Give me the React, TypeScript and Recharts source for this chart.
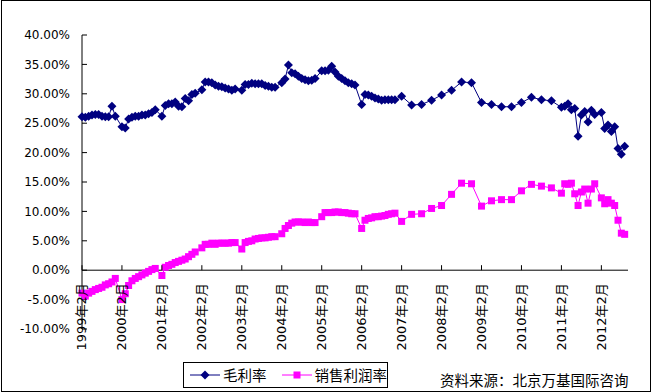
import React from 'react';
import { LineChart, Line, XAxis, YAxis, ReferenceLine } from 'recharts';

// months: Feb-Dec monthly to 2006, quarterly 2007-2010, monthly again 2011-2012
const DATES = [
  '1999-02', '1999-03', '1999-04', '1999-05', '1999-06', '1999-07', '1999-08', '1999-09', '1999-10', '1999-11', '1999-12',
  '2000-02', '2000-03', '2000-04', '2000-05', '2000-06', '2000-07', '2000-08', '2000-09', '2000-10', '2000-11', '2000-12',
  '2001-02', '2001-03', '2001-04', '2001-05', '2001-06', '2001-07', '2001-08', '2001-09', '2001-10', '2001-11', '2001-12',
  '2002-02', '2002-03', '2002-04', '2002-05', '2002-06', '2002-07', '2002-08', '2002-09', '2002-10', '2002-11', '2002-12',
  '2003-02', '2003-03', '2003-04', '2003-05', '2003-06', '2003-07', '2003-08', '2003-09', '2003-10', '2003-11', '2003-12',
  '2004-02', '2004-03', '2004-04', '2004-05', '2004-06', '2004-07', '2004-08', '2004-09', '2004-10', '2004-11', '2004-12',
  '2005-02', '2005-03', '2005-04', '2005-05', '2005-06', '2005-07', '2005-08', '2005-09', '2005-10', '2005-11', '2005-12',
  '2006-02', '2006-03', '2006-04', '2006-05', '2006-06', '2006-07', '2006-08', '2006-09', '2006-10', '2006-11', '2006-12',
  '2007-02', '2007-05', '2007-08', '2007-11',
  '2008-02', '2008-05', '2008-08', '2008-11',
  '2009-02', '2009-05', '2009-08', '2009-11',
  '2010-02', '2010-05', '2010-08', '2010-11',
  '2011-02', '2011-03', '2011-04', '2011-05', '2011-06', '2011-07', '2011-08', '2011-09', '2011-10', '2011-11', '2011-12',
  '2012-02', '2012-03', '2012-04', '2012-05', '2012-06', '2012-07', '2012-08', '2012-09',
];

// 毛利率 (%)
const GROSS = [
  26.1, 26.0, 26.2, 26.4, 26.5, 26.5, 26.2, 26.1, 26.1, 27.9, 26.2,
  24.4, 24.2, 25.7, 26.0, 26.2, 26.2, 26.4, 26.4, 26.6, 26.8, 27.3,
  26.2, 28.0, 28.3, 28.3, 28.6, 27.9, 27.8, 29.2, 28.8, 29.9, 30.1,
  30.7, 32.0, 32.0, 31.9, 31.5, 31.3, 31.2, 31.0, 30.8, 30.6, 30.8,
  30.6, 31.6, 31.6, 31.8, 31.7, 31.7, 31.7, 31.4, 31.3, 31.1, 31.1,
  31.9, 32.5, 34.9, 33.6, 33.4, 33.0, 32.6, 32.4, 32.2, 32.3, 32.6,
  33.9, 33.9, 34.0, 34.7, 33.7, 33.0, 32.6, 32.2, 31.9, 31.7, 31.5,
  28.2, 29.9, 29.8, 29.6, 29.3, 29.1, 28.9, 29.0, 29.0, 29.0, 29.0,
  29.6, 28.1, 28.2, 28.9,
  29.8, 30.6, 32.0, 31.9,
  28.5, 28.2, 27.8, 27.8,
  28.5, 29.4, 29.0, 28.8,
  27.7, 27.9, 28.3, 27.3, 27.5, 22.8, 26.4, 27.0, 25.2, 27.2, 26.5,
  26.8, 24.1, 24.7, 23.6, 24.4, 20.7, 19.7, 21.1,
];

// 销售利润率 (%)
const NET = [
  -3.9, -4.4, -3.9, -3.6, -3.3, -3.1, -2.9, -2.5, -2.3, -2.0, -1.4,
  -5.0, -4.0, -2.6, -1.8, -1.4, -1.1, -0.8, -0.5, -0.2, 0.1, 0.3,
  -0.9, 0.5, 0.8, 1.0, 1.3, 1.5, 1.7, 1.9, 2.3, 2.7, 3.1,
  3.8, 4.4, 4.4, 4.6, 4.4, 4.6, 4.6, 4.6, 4.6, 4.7, 4.7,
  3.6, 4.7, 4.9, 5.0, 5.3, 5.4, 5.5, 5.5, 5.6, 5.7, 5.7,
  6.2, 7.1, 7.6, 8.0, 8.2, 8.2, 8.2, 8.1, 8.2, 8.1, 8.1,
  9.1, 9.8, 9.8, 9.8, 9.9, 9.9, 9.8, 9.8, 9.7, 9.6, 9.6,
  7.1, 8.5, 8.8, 8.9, 9.1, 9.1, 9.2, 9.3, 9.5, 9.6, 9.7,
  8.3, 9.5, 9.6, 10.5,
  11.0, 12.9, 14.8, 14.7,
  10.9, 11.8, 12.0, 12.0,
  13.5, 14.6, 14.3, 14.0,
  13.1, 14.7, 14.6, 14.8, 13.0, 11.0, 13.3, 13.8, 11.4, 13.8, 14.7,
  12.3, 11.3, 12.0, 11.4, 11.0, 8.5, 6.3, 6.1,
];

const X_TICKS = [0, 12, 24, 36, 48, 60, 72, 84, 96, 108, 120, 132, 144, 156];
const X_LABELS = [
  '1999年2月', '2000年2月', '2001年2月', '2002年2月', '2003年2月', '2004年2月', '2005年2月',
  '2006年2月', '2007年2月', '2008年2月', '2009年2月', '2010年2月', '2011年2月', '2012年2月',
];
const Y_TICKS = [-10, -5, 0, 5, 10, 15, 20, 25, 30, 35, 40];

const NAVY = '#000080';
const MAGENTA = '#FF00FF';
const FONT = '"DejaVu Sans", "Noto Sans CJK SC", sans-serif';
const CJK = '"Noto Sans CJK SC", sans-serif';

// month index from 1999-02
const monthIndex = (d: string) => {
  const [y, m] = d.split('-').map(Number);
  return (y - 1999) * 12 + (m - 2);
};

const data = DATES.map((d, i) => ({ m: monthIndex(d), gross: GROSS[i], net: NET[i] }));

const TOP = 35;
const PLOT_H = 294;
const ZERO_Y = TOP + (PLOT_H * 40) / 50;

const Diamond = (props: any) => {
  const { cx, cy } = props;
  if (cx == null || cy == null) return <g />;
  const r = 4.5;
  return <path d={`M${cx},${cy - r}L${cx + r},${cy}L${cx},${cy + r}L${cx - r},${cy}Z`} fill={NAVY} />;
};

const Square = (props: any) => {
  const { cx, cy } = props;
  if (cx == null || cy == null) return <g />;
  return <rect x={cx - 3.5} y={cy - 3.5} width={7} height={7} fill={MAGENTA} />;
};

const MonthTick = (props: any) => {
  const { x, payload } = props;
  const ty = ZERO_Y + 13;
  return (
    <g>
      <line x1={x} x2={x} y1={ZERO_Y - 5} y2={ZERO_Y} stroke="#000" />
      <text
        x={x}
        y={ty}
        transform={`rotate(-90 ${x} ${ty})`}
        textAnchor="end"
        dominantBaseline="central"
        fontSize={13}
        fontFamily={FONT}
        fill="#000"
      >
        {X_LABELS[payload.index]}
      </text>
    </g>
  );
};

export default function App() {
  return (
    <div style={{ position: 'absolute', left: 0, top: 0, width: 651, height: 392, background: '#fff' }}>
      <div
        style={{
          position: 'absolute', left: 1, top: 0, width: 650, height: 392,
          border: '1px solid #000', boxSizing: 'border-box',
        }}
      />
      <LineChart width={651} height={392} data={data} margin={{ top: TOP, right: 23, bottom: 62, left: 0 }}>
        <XAxis
          type="number"
          dataKey="m"
          domain={[0, 164]}
          ticks={X_TICKS}
          interval={0}
          height={1}
          axisLine={false}
          tickLine={false}
          tick={<MonthTick />}
        />
        <YAxis
          width={82}
          domain={[-10, 40]}
          ticks={Y_TICKS}
          interval={0}
          tickFormatter={(v: number) => `${v.toFixed(2)}%`}
          axisLine={{ stroke: '#000' }}
          tickLine={{ stroke: '#000' }}
          tickSize={-5}
          tickMargin={17}
          tick={{ fill: '#000', fontSize: 12, fontFamily: FONT }}
        />
        <ReferenceLine y={0} stroke="#000" strokeWidth={1} />
        <Line
          dataKey="gross"
          stroke={NAVY}
          strokeWidth={1}
          dot={<Diamond />}
          activeDot={false}
          isAnimationActive={false}
        />
        <Line
          dataKey="net"
          stroke={MAGENTA}
          strokeWidth={1}
          dot={<Square />}
          activeDot={false}
          isAnimationActive={false}
        />
      </LineChart>
      <div
        style={{
          position: 'absolute', left: 183, top: 362, width: 205, height: 26,
          border: '1px solid #000', boxSizing: 'border-box', background: '#fff',
          display: 'flex', alignItems: 'center', fontFamily: CJK, fontSize: 14.5, color: '#000',
        }}
      >
        <svg width={36} height={12} style={{ marginLeft: 3 }}>
          <line x1={3} x2={33} y1={6} y2={6} stroke={NAVY} />
          <path d="M18,1.5L22.5,6L18,10.5L13.5,6Z" fill={NAVY} />
        </svg>
        <span style={{ lineHeight: '16px' }}>毛利率</span>
        <svg width={36} height={12} style={{ marginLeft: 12 }}>
          <line x1={3} x2={33} y1={6} y2={6} stroke={MAGENTA} />
          <rect x={14.5} y={2.5} width={7} height={7} fill={MAGENTA} />
        </svg>
        <span style={{ lineHeight: '16px' }}>销售利润率</span>
      </div>
      <div
        style={{
          position: 'absolute', left: 440, top: 371, fontFamily: CJK, fontSize: 14.5,
          lineHeight: '17px', color: '#000', whiteSpace: 'nowrap',
        }}
      >
        资料来源：北京万基国际咨询
      </div>
    </div>
  );
}
